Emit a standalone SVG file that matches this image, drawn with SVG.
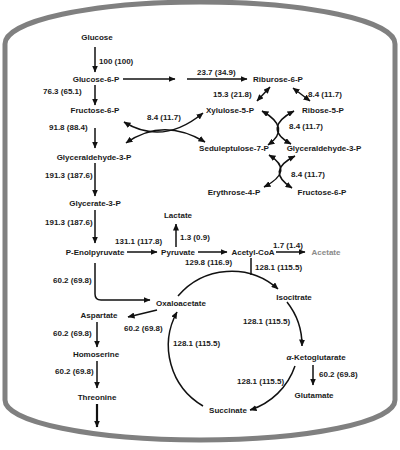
<svg xmlns="http://www.w3.org/2000/svg" width="400" height="450" viewBox="0 0 400 450">
<defs>
<style>
text{font-family:"Liberation Sans",Arial,sans-serif;font-weight:bold;font-size:8px;fill:#1a1a1a}
.n{text-anchor:middle}
.c{fill:none;stroke:#111;stroke-width:1.5}
.d{marker-start:url(#ah);marker-end:url(#ah)}
.e{marker-end:url(#ah)}
</style>
<marker id="ah" markerUnits="userSpaceOnUse" markerWidth="7" markerHeight="6" viewBox="0 0 7 6" refX="6.5" refY="3" orient="auto-start-reverse"><path d="M0 0L7 3L0 6z" fill="#111"/></marker>
</defs>
<rect width="400" height="450" fill="#fff"/>
<path id="cell" d="M5 44A195 42 0 0 1 395 44V400A195 40 0 0 1 5 400Z" fill="none" stroke="#808080" stroke-width="5"/>
<g id="connectors">
<path class="c e" d="M95 47V72"/>
<path class="c e" d="M123 79H175"/>
<path class="c e" d="M187 79H247"/>
<path class="c e" d="M95 85V105"/>
<path class="c e" d="M95 128V148"/>
<path class="c e" d="M95 163V196"/>
<path class="c e" d="M95 210V243"/>
<path class="c e" d="M127 252H157"/>
<path class="c e" d="M176 247V224"/>
<path class="c e" d="M198 252H227"/>
<path class="c e" d="M276 252H305"/>
<path class="c" d="M251 258V275"/>
<path class="c e" d="M95 263V294Q95 300 101 300H150"/>
<path class="c e" d="M157 310L128 317"/>
<path class="c e" d="M97 322V347"/>
<path class="c e" d="M97 361V388"/>
<path class="c e" d="M97 404V427" style="stroke-width:2.2"/>
<path class="c e" d="M313 365V385"/>
<path class="c d" d="M270 87L257 101"/>
<path class="c d" d="M293 88L310 101"/>
<path class="c d" d="M124 122Q163 146 203 113"/>
<path class="c d" d="M126 143Q163 117 205 142"/>
<path class="c d" d="M262 111Q292 128 268 145"/>
<path class="c d" d="M294 111Q262 128 291 144"/>
<path class="c d" d="M269 155Q295 171 264 187"/>
<path class="c d" d="M295 156Q265 171 292 188"/>
<path class="c e" d="M178 296A70 70 0 0 1 278 289"/>
<path class="c e" d="M287 302A70 70 0 0 1 302 346"/>
<path class="c e" d="M295 366A70 70 0 0 1 250 410"/>
<path class="c e" d="M203 406A70 70 0 0 1 177 312"/>
</g>
<g id="labels">
<text x="99" y="64">100 (100)</text>
<text x="197" y="75">23.7 (34.9)</text>
<text x="43" y="94">76.3 (65.1)</text>
<text x="213" y="97">15.3 (21.8)</text>
<text x="308" y="97">8.4 (11.7)</text>
<text x="49" y="130">91.8 (88.4)</text>
<text x="147" y="120">8.4 (11.7)</text>
<text x="289" y="129">8.4 (11.7)</text>
<text x="291" y="177">8.4 (11.7)</text>
<text x="45" y="178">191.3 (187.6)</text>
<text x="45" y="225">191.3 (187.6)</text>
<text x="115" y="244">131.1 (117.8)</text>
<text x="180" y="240">1.3 (0.9)</text>
<text x="185" y="265">129.8 (116.9)</text>
<text x="273" y="248">1.7 (1.4)</text>
<text x="255" y="270">128.1 (115.5)</text>
<text x="53" y="283">60.2 (69.8)</text>
<text x="124" y="331">60.2 (69.8)</text>
<text x="53" y="336">60.2 (69.8)</text>
<text x="55" y="374">60.2 (69.8)</text>
<text x="243" y="324">128.1 (115.5)</text>
<text x="173" y="346">128.1 (115.5)</text>
<text x="237" y="384">128.1 (115.5)</text>
<text x="319" y="377">60.2 (69.8)</text>
</g>
<g id="glucose"><text class="n" x="97" y="40">Glucose</text></g>
<g id="glucose6p"><text class="n" x="96" y="82">Glucose-6-P</text></g>
<g id="fructose6p"><text class="n" x="95" y="113">Fructose-6-P</text></g>
<g id="glyceraldehyde3p"><text class="n" x="94" y="160">Glyceraldehyde-3-P</text></g>
<g id="glycerate3p"><text class="n" x="95" y="206">Glycerate-3-P</text></g>
<g id="pep"><text class="n" x="95" y="255">P-Enolpyruvate</text></g>
<g id="pyruvate"><text class="n" x="178" y="255">Pyruvate</text></g>
<g id="lactate"><text class="n" x="178" y="218">Lactate</text></g>
<g id="acetylcoa"><text class="n" x="253" y="255">Acetyl-CoA</text></g>
<g id="acetate"><text class="n" x="326" y="255" style="fill:#8a8a8a">Acetate</text></g>
<g id="riburose6p"><text class="n" x="278" y="82">Riburose-6-P</text></g>
<g id="xylulose5p"><text class="n" x="230" y="113">Xylulose-5-P</text></g>
<g id="ribose5p"><text class="n" x="323" y="113">Ribose-5-P</text></g>
<g id="sedoheptulose7p"><text class="n" x="234" y="151">Seduleptulose-7-P</text></g>
<g id="glyceraldehyde3p-r"><text class="n" x="324" y="151">Glyceraldehyde-3-P</text></g>
<g id="erythrose4p"><text class="n" x="234" y="195">Erythrose-4-P</text></g>
<g id="fructose6p-r"><text class="n" x="322" y="195">Fructose-6-P</text></g>
<g id="oxaloacetate"><text class="n" x="181" y="306">Oxaloacetate</text></g>
<g id="isocitrate"><text class="n" x="294" y="300">Isocitrate</text></g>
<g id="aspartate"><text class="n" x="99" y="318">Aspartate</text></g>
<g id="homoserine"><text class="n" x="96" y="357">Homoserine</text></g>
<g id="threonine"><text class="n" x="97" y="400">Threonine</text></g>
<g id="ketoglutarate"><text class="n" x="316" y="360"><tspan font-style="italic">α</tspan>-Ketoglutarate</text></g>
<g id="glutamate"><text class="n" x="314" y="398">Glutamate</text></g>
<g id="succinate"><text class="n" x="228" y="413">Succinate</text></g>
</svg>
